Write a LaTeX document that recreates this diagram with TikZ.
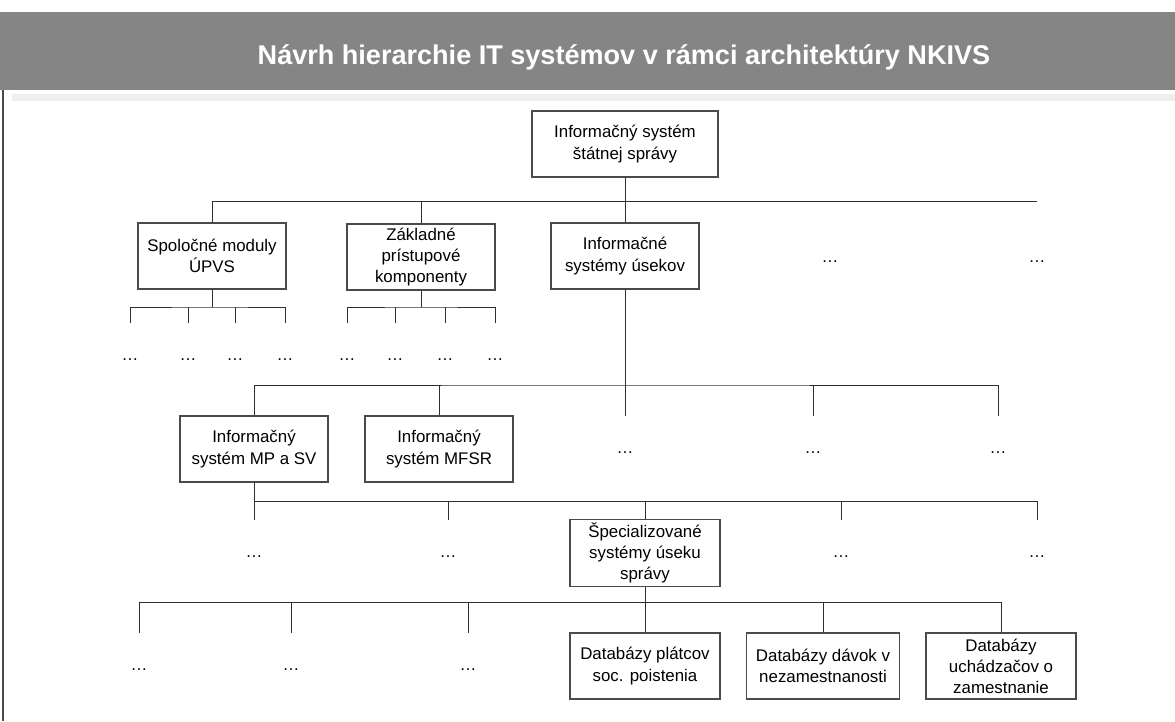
\documentclass[tikz,border=0pt]{standalone}
\usepackage{fontspec}
\setmainfont{Liberation Sans}
\definecolor{cpas}{HTML}{858585}
\definecolor{cpasb}{HTML}{EFEFEF}
\definecolor{cram}{HTML}{4A4A4A}
\definecolor{cciara}{HTML}{2E2E2E}
\tikzset{
  blok/.style={draw=cram,line width=0.6pt,align=center,inner sep=2pt,
               font=\fontsize{9.6}{12}\selectfont,
               minimum width=29.6mm,minimum height=13.2mm},
  bodky/.style={align=center,inner sep=0pt,font=\fontsize{9.6}{12}\selectfont,
                minimum height=13.2mm,text height=1.5ex,text depth=.5ex},
  spoj/.style={draw=cciara,line width=0.5pt},
  nadpis/.style={font=\fontsize{15.4}{18}\selectfont\bfseries,text=white,inner sep=0pt},
}

\begin{document}
\begin{tikzpicture}[x=0.2mm,y=-0.2mm]
\useasboundingbox (0,0) rectangle (1175,721);

% ---------------- hlavicka ----------------
\fill[cpas] (0,12) rectangle (1175,90);
\fill[cpasb] (12,94) rectangle (1175,101);
\draw[cram,line width=0.6pt] (3,90) -- (3,721);
\node[nadpis,anchor=base] (titul) at (624,64)
  {Návrh hierarchie IT systémov v rámci architektúry NKIVS};

% ---------------- uroven 0 a 1 ----------------
\node[blok,minimum width=37.2mm] (is) at (625,144) {Informačný systém\\štátnej správy};
\node[blok] (spol)  at (212,256) {Spoločné moduly\\ÚPVS};
\node[blok] (zakl)  at (421,257) {Základné\\prístupové\\komponenty};
\node[blok] (usek)  at (625,256) {Informačné\\systémy úsekov};
\node[bodky] (b1a) at (830,258) {\ldots};
\node[bodky] (b1b) at (1037,258) {\ldots};

\coordinate (z1) at (625,201);
\draw[spoj] (is) -- (z1);
\draw[spoj] (spol) |- (z1) -| (usek);
\draw[spoj] (zakl) -- (zakl |- z1);
\draw[spoj] (z1) -- (b1b |- z1);

% pod spolocnymi modulmi a pristupovymi komponentmi
\node[bodky] (s1) at (130,356) {\ldots};
\node[bodky] (s2) at (188,356) {\ldots};
\node[bodky] (s3) at (235,356) {\ldots};
\node[bodky] (s4) at (285,356) {\ldots};
\node[bodky] (k1) at (347,356) {\ldots};
\node[bodky] (k2) at (395,356) {\ldots};
\node[bodky] (k3) at (445,356) {\ldots};
\node[bodky] (k4) at (495,356) {\ldots};

\coordinate (z2) at (212,307);
\coordinate (z2k) at (421,307);
\draw[spoj] (spol) -- (z2);
\draw[spoj] (s1) |- (z2) -| (s4);
\draw[spoj] (s2) -- (s2 |- z2);
\draw[spoj] (s3) -- (s3 |- z2);
\draw[spoj] (zakl) -- (z2k);
\draw[spoj] (k1) |- (z2k) -| (k4);
\draw[spoj] (k2) -- (k2 |- z2k);
\draw[spoj] (k3) -- (k3 |- z2k);

% ---------------- uroven 2 ----------------
\node[blok] (mpsv) at (254,449) {Informačný\\systém MP a SV};
\node[blok] (mfsr) at (439,449) {Informačný\\systém MFSR};
\node[bodky] (b2a) at (625,449) {\ldots};
\node[bodky] (b2b) at (813,449) {\ldots};
\node[bodky] (b2c) at (998,449) {\ldots};

\coordinate (z3) at (625,385);
\draw[spoj] (usek) -- (b2a);
\draw[spoj] (mpsv) |- (z3) -| (b2c);
\draw[spoj] (mfsr) -- (mfsr |- z3);
\draw[spoj] (b2b) -- (b2b |- z3);

% ---------------- uroven 3 ----------------
\node[bodky] (b3a) at (254,553) {\ldots};
\node[bodky] (b3b) at (448,553) {\ldots};
\node[blok,minimum width=30mm,minimum height=13.4mm] (spec) at (645,553)
  {Špecializované\\systémy úseku\\správy};
\node[bodky] (b3c) at (841,553) {\ldots};
\node[bodky] (b3d) at (1037,553) {\ldots};

\coordinate (z4) at (254,501);
\draw[spoj] (mpsv) -- (b3a);
\draw[spoj] (z4) -| (b3d);
\draw[spoj] (b3b) -- (b3b |- z4);
\draw[spoj] (spec) -- (spec |- z4);
\draw[spoj] (b3c) -- (b3c |- z4);

% ---------------- uroven 4 ----------------
\node[bodky] (b4a) at (139,666) {\ldots};
\node[bodky] (b4b) at (291,666) {\ldots};
\node[bodky] (b4c) at (468,666) {\ldots};
\node[blok,minimum width=30mm] (platcov) at (645,666) {Databázy plátcov\\soc. poistenia};
\node[blok,minimum width=30.6mm] (davok) at (823,666) {Databázy dávok v\\nezamestnanosti};
\node[blok,minimum width=30mm] (uchad) at (1001,666) {Databázy\\uchádzačov o\\zamestnanie};

\coordinate (z5) at (645,602);
\draw[spoj] (spec) -- (platcov);
\draw[spoj] (b4a) |- (z5) -| (uchad);
\draw[spoj] (b4b) -- (b4b |- z5);
\draw[spoj] (b4c) -- (b4c |- z5);
\draw[spoj] (davok) -- (davok |- z5);

\end{tikzpicture}
\end{document}
